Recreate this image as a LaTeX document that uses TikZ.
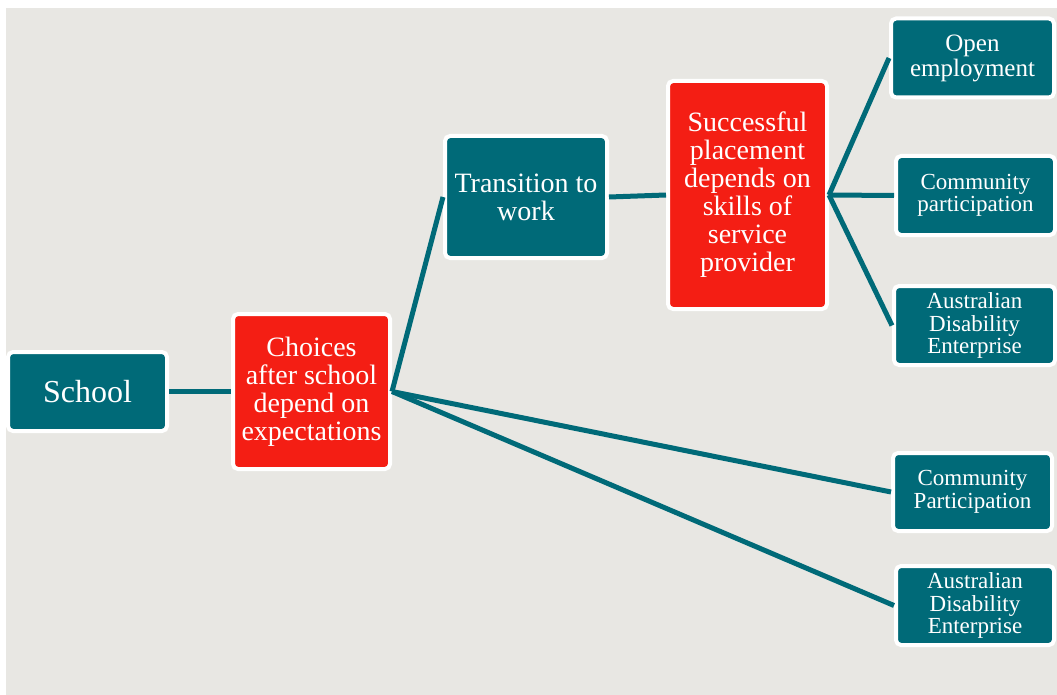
\documentclass[tikz,border=0pt]{standalone}
\usepackage{fontspec}
\setmainfont{Liberation Serif}
\definecolor{boxteal}{HTML}{006A78}
\definecolor{boxred}{HTML}{F41E14}
\definecolor{paper}{HTML}{E8E7E3}

\begin{document}
\begin{tikzpicture}[x=1pt,y=-1pt,
		box/.style={draw=white, line width=4pt, rounded corners=5pt, fill=boxteal, text=white, align=center, inner sep=0pt},
		redbox/.style={box, fill=boxred},
		bigtext/.style={font=\fontsize{28}{28}\selectfont},
		smalltext/.style={font=\fontsize{23}{22.5}\selectfont},
		link/.style={draw=boxteal, line width=5pt}]
	\useasboundingbox (0,0) rectangle (1057,695);
	\fill[paper] (6,8) rectangle (1057,695);

	\node[box, minimum width=159pt, minimum height=79pt, font=\fontsize{32}{32}\selectfont] (school) at (87.5,391.5) {School};
	\node[redbox, bigtext, minimum width=157pt, minimum height=155pt] (choices) at (311.5,391.5) {Choices\\after school\\depend on\\expectations};
	\node[box, bigtext, minimum width=162pt, minimum height=122pt] (transition) at (526,197) {Transition to\\work};
	\node[redbox, bigtext, minimum width=159pt, minimum height=228pt] (placement) at (747.5,195) {Successful\\placement\\depends on\\skills of\\service\\provider};

	% outcomes after a placement
	\node[box, minimum width=163pt, minimum height=79pt, font=\fontsize{25}{25}\selectfont] (openemp) at (972.5,58) {Open\\employment};
	\node[box, smalltext, minimum width=159pt, minimum height=79pt] (commpart) at (975.5,195.5) {Community\\participation};
	\node[box, smalltext, minimum width=161pt, minimum height=79pt] (adeone) at (974.5,325.5) {Australian\\Disability\\Enterprise};

	% outcomes straight after school
	\node[box, smalltext, minimum width=159pt, minimum height=78pt] (commpartb) at (972.5,492) {Community\\Participation};
	\node[box, smalltext, minimum width=158pt, minimum height=79pt] (adetwo) at (975,605.5) {Australian\\Disability\\Enterprise};

	\draw[link] (school.east) -- (choices.west);
	\draw[link] (choices.east) -- (transition.west);
	\draw[link] (choices.east) -- (commpartb.west);
	\draw[link] (choices.east) -- (adetwo.west);
	\draw[link] (transition.east) -- (placement.west);
	\draw[link] (placement.east) -- (openemp.west);
	\draw[link] (placement.east) -- (commpart.west);
	\draw[link] (placement.east) -- (adeone.west);
\end{tikzpicture}
\end{document}
